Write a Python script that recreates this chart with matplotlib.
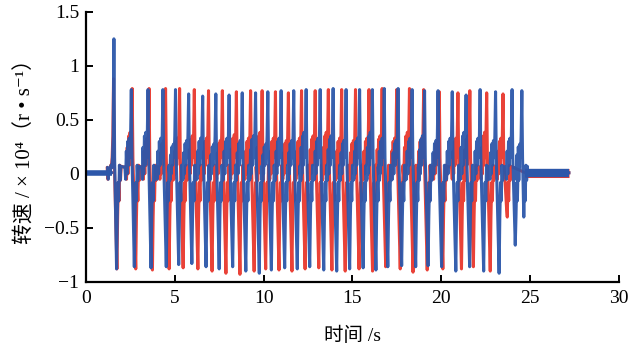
import numpy as np
import matplotlib
matplotlib.use("Agg")
import matplotlib.pyplot as plt

# ---------------- data ----------------
blue_peak_t = [1.57, 2.55, 3.49, 4.33, 5.04, 5.78, 6.57, 7.31, 8.06, 8.80, 9.55, 10.24,
               10.99, 11.70, 12.40, 13.19, 13.92, 14.65, 15.41, 16.13, 16.80, 17.58,
               18.37, 19.07, 19.83, 20.63, 21.41, 22.20, 23.07, 24.00, 24.55]
blue_peak_v = [1.25, 0.78, 0.78, 0.78, 0.78, 0.74, 0.72, 0.74, 0.73, 0.75, 0.75, 0.76,
               0.77, 0.77, 0.78, 0.78, 0.79, 0.78, 0.78, 0.78, 0.79, 0.79,
               0.78, 0.77, 0.77, 0.76, 0.73, 0.78, 0.76, 0.78, 0.77]
blue_trough_t = [1.72, 2.72, 3.66, 4.52, 5.22, 5.96, 6.76, 7.50, 8.26, 9.00, 9.76, 10.44,
                 11.19, 11.90, 12.60, 13.39, 14.12, 14.85, 15.61, 16.33, 17.00, 17.78,
                 18.57, 19.27, 20.03, 20.83, 21.61, 22.40, 23.27, 24.18, 24.62]
blue_trough_v = [-0.88, -0.86, -0.87, -0.86, -0.84, -0.83, -0.86, -0.88, -0.86, -0.90, -0.92, -0.89,
                 -0.87, -0.88, -0.86, -0.89, -0.90, -0.88, -0.87, -0.89, -0.86, -0.85,
                 -0.86, -0.85, -0.86, -0.90, -0.86, -0.90, -0.92, -0.66, -0.10]
blue_pre_v = [0.05, 0.30, 0.35, 0.30, 0.25, 0.28, 0.30, 0.25, 0.30, 0.28, 0.32, 0.25,
              0.30, 0.28, 0.35, 0.30, 0.32, 0.28, 0.30, 0.35, 0.30, 0.28,
              0.30, 0.32, 0.28, 0.30, 0.35, 0.30, 0.28, 0.30, 0.25]

red_peak_t = [1.55, 2.60, 3.55, 4.48, 5.27, 6.10, 6.90, 7.68, 8.47, 9.27, 9.92, 10.67,
              11.40, 12.14, 12.91, 13.65, 14.40, 15.18, 15.94, 16.68, 17.50, 18.22,
              19.02, 19.90, 20.95, 21.62, 22.57, 23.49]
red_peak_v = [0.88, 0.79, 0.79, 0.79, 0.79, 0.78, 0.77, 0.77, 0.76, 0.77, 0.77, 0.76,
              0.75, 0.77, 0.77, 0.78, 0.78, 0.78, 0.78, 0.79, 0.78, 0.79,
              0.78, 0.76, 0.75, 0.77, 0.75, 0.74]
red_trough_t = [1.74, 2.80, 3.74, 4.68, 5.47, 6.30, 7.10, 7.88, 8.67, 9.47, 10.12, 10.87,
                11.60, 12.34, 13.11, 13.85, 14.60, 15.38, 16.14, 16.88, 17.70, 18.42,
                19.22, 20.10, 21.15, 21.82, 22.77, 23.69]
red_trough_v = [-0.88, -0.88, -0.89, -0.88, -0.87, -0.88, -0.90, -0.92, -0.93, -0.90, -0.88, -0.89,
                -0.90, -0.88, -0.87, -0.89, -0.90, -0.88, -0.90, -0.86, -0.88, -0.91,
                -0.89, -0.88, -0.88, -0.86, -0.90, -0.32]
red_pre_v = [0.05, 0.35, 0.30, 0.28, 0.30, 0.32, 0.30, 0.28, 0.33, 0.30, 0.35, 0.30,
             0.28, 0.30, 0.32, 0.35, 0.30, 0.28, 0.30, 0.32, 0.30, 0.35,
             0.30, 0.28, 0.30, 0.32, 0.35, 0.30]

flat_start = [0.0, 1.45]
flat_end = [24.75, 27.2]
flat_level = 0.01

x_ticks = [0, 5, 10, 15, 20, 25, 30]
y_ticks = [-1, -0.5, 0, 0.5, 1, 1.5]
y_tick_labels = ["\u22121", "\u22120.5", "0", "0.5", "1", "1.5"]

# waveform shape template around each event (time offsets, values)
pre_off = [-0.36, -0.32, -0.28, -0.24, -0.20, -0.16, -0.12, -0.08, -0.04]
post_off = [0.04, 0.08, 0.12, 0.16, 0.20, 0.24]
post_val = [-0.40, -0.08, -0.25, 0.08, -0.06, 0.07]


def build(peak_t, peak_v, trough_t, trough_v, pre_v):
    ts, vs = [flat_start[0], flat_start[1]], [flat_level, flat_level]
    for tp, pv, tt, tv, pb in zip(peak_t, peak_v, trough_t, trough_v, pre_v):
        pre_val = [0.06, -0.05, pb * 0.7, 0.0, pb, 0.08, pb * 1.1, 0.15, 0.35]
        for o, v in zip(pre_off, pre_val):
            ts.append(tp + o); vs.append(v)
        ts.append(tp); vs.append(pv)
        ts.append(tp + 0.04); vs.append(0.15)
        ts.append(tt); vs.append(tv)
        for o, v in zip(post_off, post_val):
            ts.append(tt + o); vs.append(v)
    ts += [flat_end[0], flat_end[1]]
    vs += [flat_level, flat_level]
    return ts, vs


red_col = "#E8382D"
blue_col = "#2C57AA"

plt.rcParams['font.family'] = ['Liberation Serif', 'Noto Sans CJK SC', 'DejaVu Serif']

fig = plt.figure(figsize=(6.28, 3.48), dpi=100)
ax = fig.add_axes([0.137, 0.19, 0.848, 0.776])

rt, rv = build(red_peak_t, red_peak_v, red_trough_t, red_trough_v, red_pre_v)
bt, bv = build(blue_peak_t, blue_peak_v, blue_trough_t, blue_trough_v, blue_pre_v)

ax.plot(rt, rv, color=red_col, lw=2.2, alpha=0.95)
ax.plot(flat_end, [flat_level, flat_level], color=red_col, lw=6.5, solid_capstyle='butt')
ax.plot(bt, bv, color=blue_col, lw=2.2, alpha=0.95)
ax.plot(flat_start, [flat_level, flat_level], color=blue_col, lw=4, solid_capstyle='butt')
ax.plot(flat_end, [flat_level, flat_level], color=blue_col, lw=6, solid_capstyle='butt')

ax.set_xlim(0, 30)
ax.set_ylim(-1, 1.5)
ax.set_xticks(x_ticks)
ax.set_yticks(y_ticks)
ax.set_yticklabels(y_tick_labels)
ax.spines['top'].set_visible(False)
ax.spines['right'].set_visible(False)
for s in ['left', 'bottom']:
    ax.spines[s].set_linewidth(1.6)
ax.tick_params(direction='in', length=5, width=1.4, labelsize=14, pad=6, colors='black')
ax.tick_params(axis='y', pad=5)

ax.set_xlabel("时间 /s", fontsize=14, labelpad=14)
ax.set_ylabel("转速 / × 10\u2074（r • s\u207b\u00b9）", fontsize=15, labelpad=6)

fig.savefig("out.png", dpi=100)
